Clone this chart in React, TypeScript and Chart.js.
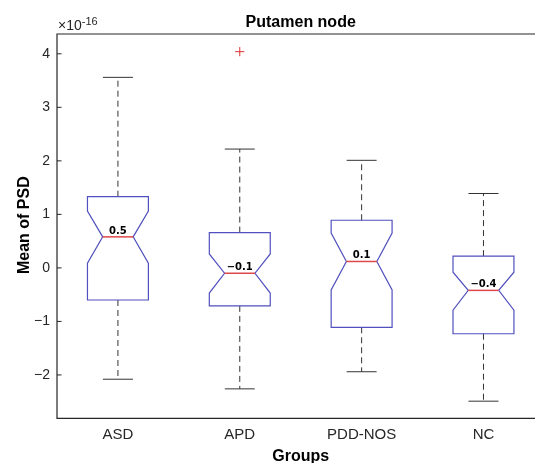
import React, { useEffect, useRef } from "react";
import { Chart, registerables } from "chart.js";

Chart.register(...registerables);

const groups = ["ASD", "APD", "PDD-NOS", "NC"];
const whiskerHigh = [3.56, 2.22, 2.01, 1.39];
const q3 = [1.33, 0.66, 0.89, 0.22];
const notchHigh = [1.06, 0.26, 0.65, -0.08];
const medians = [0.58, -0.1, 0.12, -0.42];
const notchLow = [0.09, -0.47, -0.41, -0.79];
const q1 = [-0.6, -0.71, -1.11, -1.23];
const whiskerLow = [-2.08, -2.26, -1.94, -2.49];
const medianLabels = ["0.5", "\u22120.1", "0.1", "\u22120.4"];
const outlierGroup = [2];
const outlierValue = [4.04];
const yTicks = [-2, -1, 0, 1, 2, 3, 4];
const xTicks = [1, 2, 3, 4];

const FONT = "'Liberation Sans', Arial, Helvetica, sans-serif";
const AXIS_COLOR = "#262626";

const boxPlugin = {
  id: "notchedBox",
  afterDatasetsDraw(chart: any) {
    const { ctx, scales } = chart;
    const x = scales.x;
    const y = scales.y;
    const unit = x.getPixelForValue(1) - x.getPixelForValue(0);
    const half = 0.25 * unit;
    const notchIn = 0.125 * unit;
    const cap = 0.123 * unit;
    const py = (v: number) => y.getPixelForValue(v);
    ctx.save();
    groups.forEach((_g, i) => {
      const cx = x.getPixelForValue(i + 1);
      const xl = cx - half;
      const xr = cx + half;
      // dashed whiskers
      ctx.strokeStyle = "#333333";
      ctx.lineWidth = 1;
      ctx.setLineDash([6, 4]);
      ctx.beginPath();
      ctx.moveTo(cx, py(q3[i]));
      ctx.lineTo(cx, py(whiskerHigh[i]));
      ctx.moveTo(cx, py(q1[i]));
      ctx.lineTo(cx, py(whiskerLow[i]));
      ctx.stroke();
      ctx.setLineDash([]);
      // caps
      ctx.beginPath();
      ctx.moveTo(cx - cap, py(whiskerHigh[i]));
      ctx.lineTo(cx + cap, py(whiskerHigh[i]));
      ctx.moveTo(cx - cap, py(whiskerLow[i]));
      ctx.lineTo(cx + cap, py(whiskerLow[i]));
      ctx.stroke();
      // notched box
      ctx.strokeStyle = "rgb(80,80,190)";
      ctx.lineWidth = 1.2;
      ctx.beginPath();
      ctx.moveTo(xl, py(q3[i]));
      ctx.lineTo(xr, py(q3[i]));
      ctx.lineTo(xr, py(notchHigh[i]));
      ctx.lineTo(xr - notchIn, py(medians[i]));
      ctx.lineTo(xr, py(notchLow[i]));
      ctx.lineTo(xr, py(q1[i]));
      ctx.lineTo(xl, py(q1[i]));
      ctx.lineTo(xl, py(notchLow[i]));
      ctx.lineTo(xl + notchIn, py(medians[i]));
      ctx.lineTo(xl, py(notchHigh[i]));
      ctx.closePath();
      ctx.stroke();
      // median
      ctx.strokeStyle = "rgb(222,72,72)";
      ctx.lineWidth = 1.5;
      ctx.beginPath();
      ctx.moveTo(xl + notchIn, py(medians[i]));
      ctx.lineTo(xr - notchIn, py(medians[i]));
      ctx.stroke();
      // label
      ctx.fillStyle = "#000";
      ctx.font = "bold 10px 'DejaVu Sans', sans-serif";
      ctx.textAlign = "center";
      ctx.textBaseline = "alphabetic";
      ctx.fillText(medianLabels[i], cx, py(medians[i]) - 3);
    });
    ctx.restore();
  },
  afterDraw(chart: any) {
    const { ctx, chartArea, scales } = chart;
    const y = scales.y;
    const { left, right, top, bottom } = chartArea;
    ctx.save();
    ctx.strokeStyle = AXIS_COLOR;
    ctx.lineWidth = 1.2;
    ctx.beginPath();
    ctx.moveTo(left, top);
    ctx.lineTo(left, bottom);
    ctx.lineTo(right, bottom);
    ctx.lineTo(right, top);
    ctx.closePath();
    ctx.stroke();
    ctx.lineWidth = 1;
    ctx.beginPath();
    yTicks.forEach((t) => {
      const p = y.getPixelForValue(t);
      ctx.moveTo(left, p);
      ctx.lineTo(left + 4.5, p);
      ctx.moveTo(right, p);
      ctx.lineTo(right - 4.5, p);
    });
    ctx.stroke();

    const cxAxis = (left + right) / 2;
    ctx.fillStyle = "#000";
    ctx.textAlign = "center";
    ctx.textBaseline = "alphabetic";
    ctx.font = `bold 16px ${FONT}`;
    ctx.fillText("Putamen node", cxAxis, top - 7);
    ctx.fillText("Groups", cxAxis, 461);

    ctx.save();
    ctx.translate(28.5, (top + bottom) / 2 - 1);
    ctx.rotate(-Math.PI / 2);
    ctx.fillText("Mean of PSD", 0, 0);
    ctx.restore();

    ctx.fillStyle = AXIS_COLOR;
    ctx.textAlign = "left";
    ctx.font = `14px ${FONT}`;
    const base = "\u00d710";
    ctx.fillText(base, left + 1, top - 4);
    const w = ctx.measureText(base).width;
    ctx.font = `11px ${FONT}`;
    ctx.fillText("-16", left + 1 + w, top - 9);
    ctx.restore();
  },
};

export default function App() {
  const ref = useRef<HTMLCanvasElement | null>(null);
  useEffect(() => {
    if (!ref.current) return;
    const chart = new Chart(ref.current, {
      type: "scatter",
      data: {
        datasets: [
          {
            data: outlierGroup.map((g, i) => ({ x: g, y: outlierValue[i] })),
            pointStyle: "cross",
            pointRadius: 4.6,
            borderColor: "rgb(220,50,50)",
            backgroundColor: "rgb(220,50,50)",
            borderWidth: 1,
          },
        ],
      },
      options: {
        animation: false,
        responsive: false,
        events: [],
        layout: { padding: { top: 34, right: 5.4, left: 0, bottom: 0 } },
        plugins: { legend: { display: false }, tooltip: { enabled: false }, title: { display: false } },
        scales: {
          x: {
            type: "linear",
            min: 0.5,
            max: 4.5,
            grid: { display: false, drawTicks: false },
            border: { display: false },
            afterBuildTicks: (s: any) => {
              s.ticks = xTicks.map((v) => ({ value: v }));
            },
            afterFit: (s: any) => {
              s.height = 44.7;
            },
            ticks: {
              autoSkip: false,
              maxRotation: 0,
              padding: 8,
              color: AXIS_COLOR,
              font: { family: FONT, size: 15 },
              callback: (v: any) => groups[Number(v) - 1] ?? "",
            },
          },
          y: {
            type: "linear",
            min: -2.81,
            max: 4.37,
            grid: { display: false, drawTicks: false },
            border: { display: false },
            afterBuildTicks: (s: any) => {
              s.ticks = yTicks.map((v) => ({ value: v }));
            },
            afterFit: (s: any) => {
              s.width = 57;
            },
            ticks: {
              padding: 7,
              color: AXIS_COLOR,
              font: { family: FONT, size: 14 },
              callback: (v: any) => (Number(v) < 0 ? "\u2212" + Math.abs(Number(v)) : String(v)),
            },
          },
        },
      },
      plugins: [boxPlugin],
    } as any);
    return () => chart.destroy();
  }, []);
  return (
    <div style={{ position: "fixed", left: 0, top: 0, width: 535, height: 463, overflow: "hidden", background: "#fff" }}>
      <canvas ref={ref} width={550} height={463} style={{ width: 550, height: 463, display: "block" }} />
    </div>
  );
}
